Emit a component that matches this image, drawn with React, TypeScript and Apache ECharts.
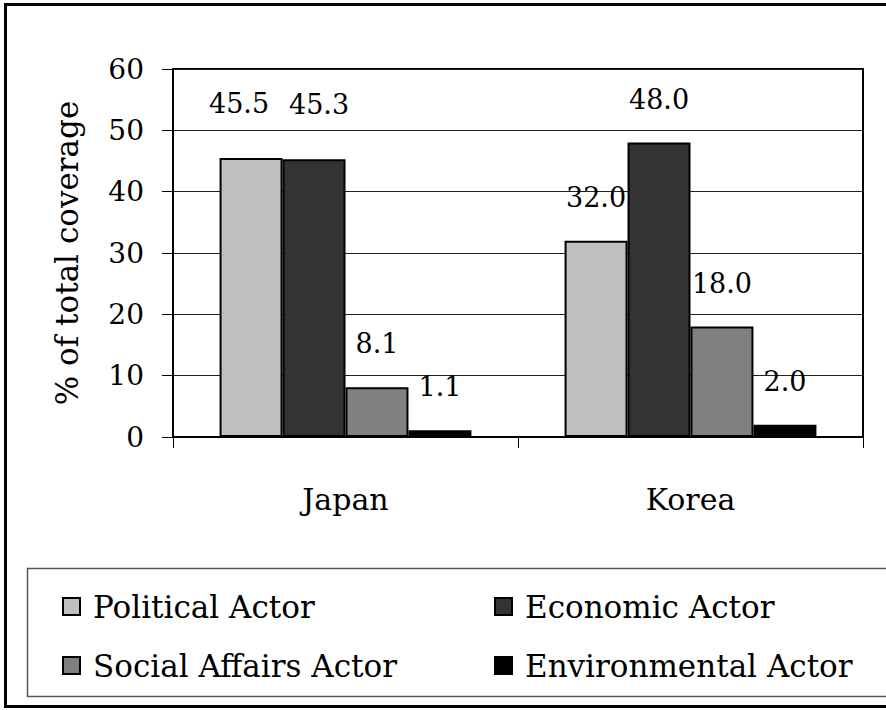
import React, { useEffect, useRef } from "react";
import * as echarts from "echarts";

const categories = ["Japan", "Korea"];
const seriesNames = ["Political Actor", "Economic Actor", "Social Affairs Actor", "Environmental Actor"];
const political = [45.5, 32.0];
const economic = [45.3, 48.0];
const socialAffairs = [8.1, 18.0];
const environmental = [1.1, 2.0];
const yTicks = { min: 0, max: 60, interval: 10 };

const seriesValues = [political, economic, socialAffairs, environmental];
const colors = ["#c0c0c0", "#333333", "#808080", "#000000"];
// label nudges (series index -> category index -> [dx, dy])
const labelNudges: Record<string, [number, number]> = {
  "0-0": [-12, -11],
  "1-0": [5, -11],
};

const FONT = "DejaVu Serif";

export default function App() {
  const ref = useRef<HTMLDivElement>(null);
  useEffect(() => {
    if (!ref.current) return;
    const chart = echarts.init(ref.current, undefined, { renderer: "svg" });
    const series = seriesNames.map((name, si) => ({
      name,
      type: "bar",
      barGap: "0%",
      barCategoryGap: "27%",
      itemStyle: { color: colors[si], borderColor: "#000", borderWidth: 2 },
      data: seriesValues[si].map((v, ci) => {
        const nudge = labelNudges[`${si}-${ci}`];
        return nudge ? { value: v, label: { offset: nudge } } : { value: v };
      }),
      label: {
        show: true,
        position: "top",
        distance: 30,
        formatter: (p: any) => Number(p.value).toFixed(1),
        fontFamily: FONT,
        fontSize: 27,
        color: "#000",
      },
    }));
    const legendText = { fontFamily: FONT, fontSize: 31, color: "#000", lineHeight: 30, padding: [0, 0, 0, 8] };
    chart.setOption({
      animation: false,
      backgroundColor: "#fff",
      grid: {
        left: 173,
        right: 23,
        top: 69,
        bottom: 273,
        show: true,
        borderColor: "#000",
        borderWidth: 2,
      },
      xAxis: {
        type: "category",
        data: categories,
        axisLine: { lineStyle: { color: "#000", width: 2 } },
        axisTick: { show: true, length: 11, lineStyle: { color: "#000", width: 1 } },
        axisLabel: { fontFamily: FONT, fontSize: 30, color: "#000", margin: 47 },
      },
      yAxis: {
        type: "value",
        min: yTicks.min,
        max: yTicks.max,
        interval: yTicks.interval,
        name: "% of total coverage",
        nameLocation: "middle",
        nameGap: 91,
        nameTextStyle: { fontFamily: FONT, fontSize: 31, color: "#000" },
        axisLine: { show: true, lineStyle: { color: "#000", width: 2 } },
        axisTick: { show: true, length: 11, lineStyle: { color: "#000", width: 1 } },
        axisLabel: { fontFamily: FONT, fontSize: 28, color: "#000", margin: 29 },
        splitLine: { lineStyle: { color: "#222", width: 1 } },
      },
      legend: [
        {
          data: [seriesNames[0], seriesNames[2]],
          orient: "vertical",
          left: 57,
          top: 586,
          itemWidth: 17,
          itemHeight: 17,
          itemGap: 28,
          icon: "rect",
          textStyle: legendText,
        },
        {
          data: [seriesNames[1], seriesNames[3]],
          orient: "vertical",
          left: 489,
          top: 586,
          itemWidth: 17,
          itemHeight: 17,
          itemGap: 28,
          icon: "rect",
          textStyle: legendText,
        },
      ],
      graphic: [
        {
          type: "rect",
          shape: { x: 27.5, y: 568.5, width: 900, height: 128 },
          style: { fill: "none", stroke: "#555", lineWidth: 1.5 },
          silent: true,
          z: -1,
        },
        {
          type: "rect",
          shape: { x: 5.5, y: 4.5, width: 900, height: 702 },
          style: { fill: "none", stroke: "#000", lineWidth: 3 },
          silent: true,
        },
      ],
      series,
    });
    return () => chart.dispose();
  }, []);
  return (
    <div
      ref={ref}
      style={{ position: "fixed", left: 0, top: 0, width: 886, height: 710, background: "#fff" }}
    />
  );
}
